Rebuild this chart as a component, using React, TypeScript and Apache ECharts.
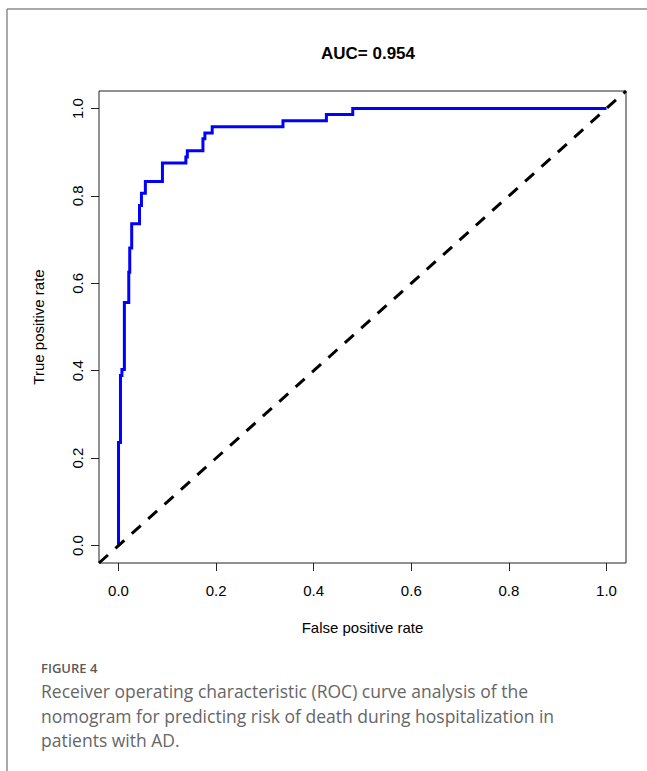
import React, { useEffect, useRef } from "react";
import * as echarts from "echarts";

// ---- data ----
const TITLE = "AUC= 0.954";
const X_NAME = "False positive rate";
const Y_NAME = "True positive rate";
const TICK_VALUES = [0, 0.2, 0.4, 0.6, 0.8, 1.0];
const AXIS_MIN = -0.04;
const AXIS_MAX = 1.04;
// ROC curve corners (step 'end': horizontal first, then vertical)
const FPR = [0, 0, 0.004, 0.007, 0.012, 0.021, 0.023, 0.027, 0.043, 0.047, 0.055, 0.09, 0.138, 0.141, 0.173, 0.177, 0.192, 0.337, 0.426, 0.48, 1.0];
const TPR = [0, 0.236, 0.389, 0.403, 0.556, 0.625, 0.681, 0.736, 0.778, 0.806, 0.833, 0.875, 0.889, 0.903, 0.931, 0.944, 0.958, 0.972, 0.986, 1.0, 1.0];
// reference diagonal (abline 0,1) across the whole plot region
const REF_X = [AXIS_MIN, AXIS_MAX];
const REF_Y = [AXIS_MIN, AXIS_MAX];
const FIGURE_LABEL = "FIGURE 4";
const CAPTION_LINES = [
  "Receiver operating characteristic (ROC) curve analysis of the",
  "nomogram for predicting risk of death during hospitalization in",
  "patients with AD.",
];

const W = 647;
const H = 771;
const FONT = '"Liberation Sans", Arial, Helvetica, sans-serif';
const CAP_FONT = '"Open Sans", "Noto Sans", sans-serif';

export default function App() {
  const ref = useRef<HTMLDivElement>(null);
  useEffect(() => {
    if (!ref.current) return;
    const chart = echarts.init(ref.current, null, { renderer: "svg" });
    const axisCommon = {
      type: "value" as const,
      min: AXIS_MIN,
      max: AXIS_MAX,
      splitLine: { show: false },
      axisLine: { show: false, onZero: false },
      nameLocation: "middle" as const,
      nameTextStyle: { fontFamily: FONT, fontSize: 15, color: "#000" },
      axisTick: {
        show: true,
        inside: false,
        length: 8,
        customValues: TICK_VALUES,
        lineStyle: { color: "#222", width: 1 },
      },
    };
    const option: any = {
      animation: false,
      backgroundColor: "#fff",
      title: {
        text: TITLE,
        left: 363,
        top: 40,
        textAlign: "center",
        textStyle: { fontFamily: FONT, fontSize: 17, fontWeight: "bold", color: "#000" },
      },
      grid: {
        left: 99,
        top: 91,
        right: W - 626,
        bottom: H - 563,
        show: true,
        borderColor: "#222",
        borderWidth: 1,
        backgroundColor: "transparent",
      },
      xAxis: {
        ...axisCommon,
        name: X_NAME,
        nameGap: 57,
        axisLabel: {
          customValues: TICK_VALUES,
          formatter: (v: number) => v.toFixed(1),
          margin: 20,
          fontFamily: FONT,
          fontSize: 15,
          color: "#000",
        },
      },
      yAxis: {
        ...axisCommon,
        name: Y_NAME,
        nameGap: 53,
        axisLabel: {
          customValues: TICK_VALUES,
          formatter: (v: number) => v.toFixed(1),
          margin: 14,
          rotate: 90,
          fontFamily: FONT,
          fontSize: 15,
          color: "#000",
        },
      },
      series: [
        {
          type: "line",
          step: "end",
          symbol: "none",
          data: FPR.map((x, i) => [x, TPR[i]]),
          lineStyle: { color: "#0000ff", width: 3, join: "miter" },
          z: 2,
        },
        {
          type: "line",
          symbol: "none",
          data: REF_X.map((x, i) => [x, REF_Y[i]]),
          lineStyle: { color: "#000", width: 3, type: [12, 10], cap: "butt" },
          z: 3,
        },
      ],
      graphic: [
        { type: "line", shape: { x1: 7, y1: 9, x2: 7, y2: H }, style: { stroke: "#8c8c8c", lineWidth: 1.5 } },
        { type: "line", shape: { x1: 7, y1: 9, x2: W, y2: 9 }, style: { stroke: "#8c8c8c", lineWidth: 1.5 } },
        {
          type: "text",
          x: 41,
          y: 668,
          style: {
            text: FIGURE_LABEL,
            font: `600 13px ${CAP_FONT}`,
            fill: "#5a5a5a",
            verticalAlign: "middle",
          },
        },
        ...CAPTION_LINES.map((t, i) => ({
          type: "text",
          x: 41,
          y: 691 + i * 24.5,
          style: {
            text: t,
            font: `17.5px ${CAP_FONT}`,
            fill: "#666",
            verticalAlign: "middle",
          },
        })),
      ],
    };
    chart.setOption(option);
    return () => chart.dispose();
  }, []);
  return (
    <div
      ref={ref}
      style={{ position: "absolute", left: 0, top: 0, width: W, height: H, background: "#fff" }}
    />
  );
}
